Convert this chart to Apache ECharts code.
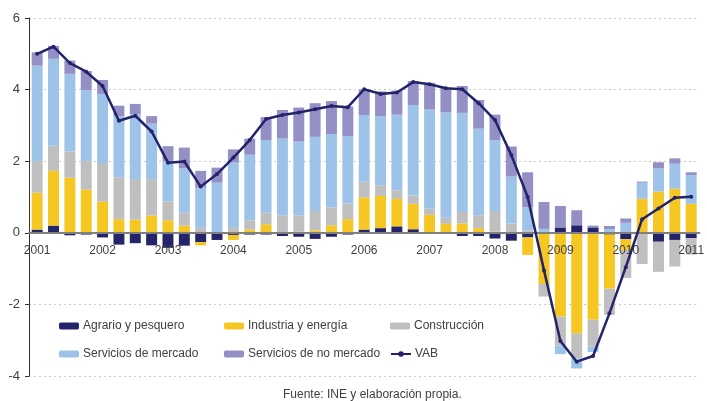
<!DOCTYPE html>
<html>
<head>
<meta charset="utf-8">
<script src="https://cdn.jsdelivr.net/npm/echarts@6/dist/echarts.min.js"></script>
<style>
  html, body { margin: 0; padding: 0; background: #fff; }
  #chart { width: 707px; height: 401px; }
</style>
</head>
<body>
<div id="chart"></div>
<script>
// trimestres 2001T1 - 2011T1
const quarters = [
  '2001', '2001T2', '2001T3', '2001T4',
  '2002', '2002T2', '2002T3', '2002T4',
  '2003', '2003T2', '2003T3', '2003T4',
  '2004', '2004T2', '2004T3', '2004T4',
  '2005', '2005T2', '2005T3', '2005T4',
  '2006', '2006T2', '2006T3', '2006T4',
  '2007', '2007T2', '2007T3', '2007T4',
  '2008', '2008T2', '2008T3', '2008T4',
  '2009', '2009T2', '2009T3', '2009T4',
  '2010', '2010T2', '2010T3', '2010T4',
  '2011'
]

const agrario = [0.09, 0.20, -0.07, -0.05, -0.13, -0.33, -0.29, -0.35, -0.42, -0.36, -0.26, -0.20, -0.06, -0.05, -0.05, -0.09, -0.11, -0.17, -0.11, -0.05, 0.09, 0.13, 0.18, 0.10, 0.01, 0.01, -0.09, -0.09, -0.16, -0.22, -0.13, 0.0, 0.15, 0.21, 0.15, -0.05, -0.18, -0.02, -0.25, -0.20, -0.15]
const industria = [1.03, 1.53, 1.54, 1.21, 0.87, 0.38, 0.37, 0.48, 0.35, 0.20, -0.09, 0.0, -0.14, 0.09, 0.24, 0.01, 0.03, 0.07, 0.21, 0.38, 0.90, 0.90, 0.77, 0.71, 0.49, 0.24, 0.26, 0.13, 0.03, 0.0, -0.49, -1.43, -2.34, -2.81, -2.43, -1.51, -0.30, 0.95, 1.15, 1.23, 0.81]
const construccion = [0.88, 0.70, 0.73, 0.79, 1.08, 1.17, 1.13, 1.02, 0.53, 0.36, 0.14, 0.02, 0.16, 0.26, 0.32, 0.48, 0.45, 0.54, 0.50, 0.44, 0.44, 0.30, 0.24, 0.23, 0.17, 0.17, 0.32, 0.36, 0.58, 0.26, 0.06, -0.35, -0.81, -0.70, -0.75, -0.73, -0.78, -0.85, -0.84, -0.74, -0.46]
const servMercado = [2.67, 2.43, 2.17, 1.99, 1.93, 1.70, 1.81, 1.55, 1.12, 1.24, 1.12, 1.38, 1.80, 1.83, 2.03, 2.14, 2.07, 2.07, 2.05, 1.88, 1.86, 1.93, 2.11, 2.53, 2.77, 2.94, 2.77, 2.42, 1.98, 1.31, 0.65, 0.11, -0.24, -0.28, -0.15, 0.10, 0.28, 0.45, 0.65, 0.70, 0.80]
const servNoMercado = [0.37, 0.36, 0.37, 0.53, 0.39, 0.30, 0.29, 0.21, 0.42, 0.58, 0.47, 0.42, 0.37, 0.45, 0.64, 0.80, 0.95, 0.94, 0.92, 0.83, 0.72, 0.69, 0.67, 0.67, 0.75, 0.69, 0.75, 0.80, 0.71, 0.84, 0.98, 0.75, 0.60, 0.42, 0.05, 0.09, 0.12, 0.03, 0.17, 0.15, 0.08]
const vab = [5.0, 5.2, 4.74, 4.5, 4.1, 3.13, 3.27, 2.83, 1.96, 1.99, 1.29, 1.64, 2.1, 2.59, 3.18, 3.29, 3.36, 3.45, 3.54, 3.51, 4.01, 3.88, 3.92, 4.21, 4.15, 4.04, 4.01, 3.62, 3.15, 2.17, 1.0, -1.05, -3.02, -3.6, -3.44, -2.25, -0.96, 0.38, 0.68, 0.98, 1.01]

const yTicks = { min: -4, max: 6, step: 2 }

const FONT = 'Liberation Sans'
const TXT = '#404040'
const GRID = { left: 29, right: 1, top: 18, bottom: 25 }

const chart = echarts.init(document.getElementById('chart'))

function barSerie(name, data, color) {
  return {
    name,
    type: 'bar',
    stack: 'total',
    data,
    barCategoryGap: '33%',
    itemStyle: { color },
    emphasis: { disabled: true }
  }
}

// una leyenda por elemento para alinear columnas
function legendAt(name, left, top) {
  return {
    data: [name],
    left,
    top,
    itemWidth: 20,
    itemHeight: 7,
    itemGap: 0,
    padding: 0,
    textStyle: { fontFamily: FONT, fontSize: 12, color: TXT, padding: [0, 0, 0, -1] }
  }
}

// el eje X va en el cero: desplazamiento desde el borde inferior del grid
const plotH = 401 - GRID.top - GRID.bottom
const zeroOffset = -plotH * (0 - yTicks.min) / (yTicks.max - yTicks.min)

const option = {
  animation: false,
  textStyle: { fontFamily: FONT },
  grid: GRID,
  legend: [
    legendAt('Agrario y pesquero', 59, 320),
    legendAt('Industria y energía', 224, 320),
    legendAt('Construcción', 390, 320),
    legendAt('Servicios de mercado', 59, 348),
    legendAt('Servicios de no mercado', 224, 348),
    legendAt('VAB', 390, 348)
  ],
  xAxis: {
    type: 'category',
    data: quarters,
    offset: zeroOffset,
    z: 3,
    axisLine: { onZero: false, lineStyle: { color: '#808080', width: 2 } },
    axisTick: { show: false },
    axisLabel: {
      interval: (idx) => idx % 4 === 0,
      formatter: (v) => v.slice(0, 4),
      color: TXT,
      fontFamily: FONT,
      fontSize: 12,
      margin: 12
    }
  },
  yAxis: {
    type: 'value',
    min: yTicks.min,
    max: yTicks.max,
    interval: yTicks.step,
    axisLine: { show: true, lineStyle: { color: '#333', width: 1 } },
    axisTick: { show: true, length: 4, lineStyle: { color: '#333' } },
    axisLabel: { color: TXT, fontFamily: FONT, fontSize: 13, margin: 9 },
    splitLine: { lineStyle: { color: '#c8c8c8', type: [2, 3] } }
  },
  series: [
    barSerie('Agrario y pesquero', agrario, '#24246b'),
    barSerie('Industria y energía', industria, '#f6c623'),
    barSerie('Construcción', construccion, '#bfbfbf'),
    barSerie('Servicios de mercado', servMercado, '#9dc4e8'),
    barSerie('Servicios de no mercado', servNoMercado, '#9490c6'),
    {
      name: 'VAB',
      type: 'line',
      data: vab,
      z: 5,
      symbol: 'circle',
      symbolSize: 4,
      lineStyle: { color: '#23236b', width: 2.5 },
      itemStyle: { color: '#23236b' },
      emphasis: { disabled: true }
    }
  ],
  graphic: [{
    type: 'text',
    left: 283,
    top: 389,
    style: { text: 'Fuente: INE y elaboración propia.', fill: TXT, font: '12px "Liberation Sans"' }
  }]
}

chart.setOption(option)
</script>
</body>
</html>
